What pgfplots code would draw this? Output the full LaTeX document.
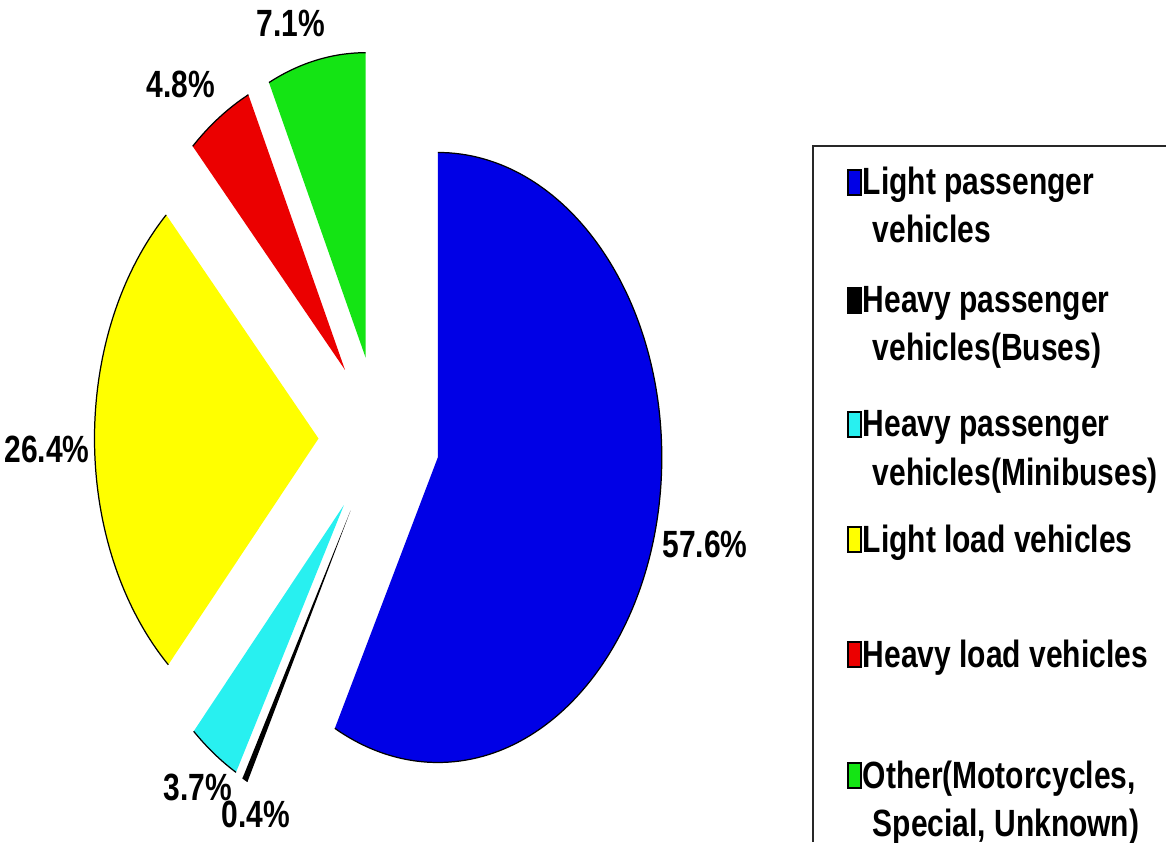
\documentclass[border=0pt]{standalone}
\usepackage{pgfplots}
\pgfplotsset{compat=1.18}
\usepackage{fontspec}
\setmainfont{Liberation Sans}[FakeStretch=0.79]

\definecolor{pieBlue}{RGB}{0,0,230}
\definecolor{pieBlack}{RGB}{0,0,0}
\definecolor{pieCyan}{RGB}{40,240,240}
\definecolor{pieYellow}{RGB}{255,255,0}
\definecolor{pieRed}{RGB}{235,0,0}
\definecolor{pieGreen}{RGB}{20,228,20}
\definecolor{frameGray}{RGB}{40,40,40}

\newcommand\chartfont{\fontsize{10.8}{12}\selectfont\bfseries}

% pie geometry (axis units: 1 unit = 0.01cm)
\def\pcx{379}\def\pcy{404}   % centre
\def\prx{2.24cm}\def\pry{3.05cm} % radii
\def\pex{60.5}\def\pey{82.35}  % explode offset (0.27 of radius)
\def\cum{0}

% \pieslice{value}{colour}{label x}{label baseline y}
\newcommand\pieslice[4]{%
  \pgfmathsetmacro\sa{90-3.6*\cum}%
  \pgfmathsetmacro\ea{90-3.6*(\cum+#1)}%
  \pgfmathsetmacro\ma{(\sa+\ea)/2}%
  \pgfmathsetmacro\px{\pcx+\pex*cos(\ma)}%
  \pgfmathsetmacro\py{\pcy+\pey*sin(\ma)}%
  \pgfmathsetmacro\lby{842-#4}%
  \edef\doslice{%
    \noexpand\fill[#2] (axis cs:\px,\py) -- ++(\sa:\prx\space and \pry)
      arc[start angle=\sa, end angle=\ea, x radius=\prx, y radius=\pry] -- cycle;
    \noexpand\draw[black, line width=0.35pt] (axis cs:\px,\py) ++(\sa:\prx\space and \pry)
      arc[start angle=\sa, end angle=\ea, x radius=\prx, y radius=\pry];
    \noexpand\node[anchor=base, inner sep=0pt, font=\noexpand\chartfont]
      at (axis cs:#3,\lby) {#1\noexpand\%};
  }\doslice
  \pgfmathsetmacro\newcum{\cum+#1}%
  \xdef\cum{\newcum}%
}

% \legendentry{colour}{baseline y}{first line}{second line}
\newcommand\legendentry[4]{%
  \pgfmathsetmacro\lya{842-#2}%
  \pgfmathsetmacro\lyt{842-#2+25}%
  \pgfmathsetmacro\lyb{842-#2-48}%
  \edef\doentry{%
    \noexpand\filldraw[fill=#1, draw=black, line width=0.4pt]
      (axis cs:848,\lya) rectangle (axis cs:861,\lyt);
    \noexpand\node[anchor=base west, inner sep=0pt, font=\noexpand\chartfont]
      at (axis cs:862,\lya) {#3};
    \noexpand\node[anchor=base west, inner sep=0pt, font=\noexpand\chartfont]
      at (axis cs:872,\lyb) {#4};
  }\doentry
}

\begin{document}
\begin{tikzpicture}
\begin{axis}[
  width=11.66cm, height=8.42cm, scale only axis,
  xmin=0, xmax=1166, ymin=0, ymax=842,
  hide axis, clip=true,
]
% slices, clockwise from twelve o'clock
\pieslice{57.6}{pieBlue}{705}{557}
\pieslice{0.4}{pieBlack}{256}{827}
\pieslice{3.7}{pieCyan}{198}{800}
\pieslice{26.4}{pieYellow}{47}{463}
\pieslice{4.8}{pieRed}{181}{98}
\pieslice{7.1}{pieGreen}{291}{37}

% legend frame, running off the right and bottom edges
\draw[frameGray, line width=0.6pt] (axis cs:813,0) -- (axis cs:813,696) -- (axis cs:1166,696);
\legendentry{pieBlue}{195}{Light passenger}{vehicles}
\legendentry{pieBlack}{313}{Heavy passenger}{vehicles(Buses)}
\legendentry{pieCyan}{437}{Heavy passenger}{vehicles(Minibuses)}
\legendentry{pieYellow}{552}{Light load vehicles}{}
\legendentry{pieRed}{667}{Heavy load vehicles}{}
\legendentry{pieGreen}{788}{Other(Motorcycles,}{Special, Unknown)}
\end{axis}
\pgfresetboundingbox
\path (current axis.south west) rectangle (current axis.north east);
\end{tikzpicture}
\end{document}
